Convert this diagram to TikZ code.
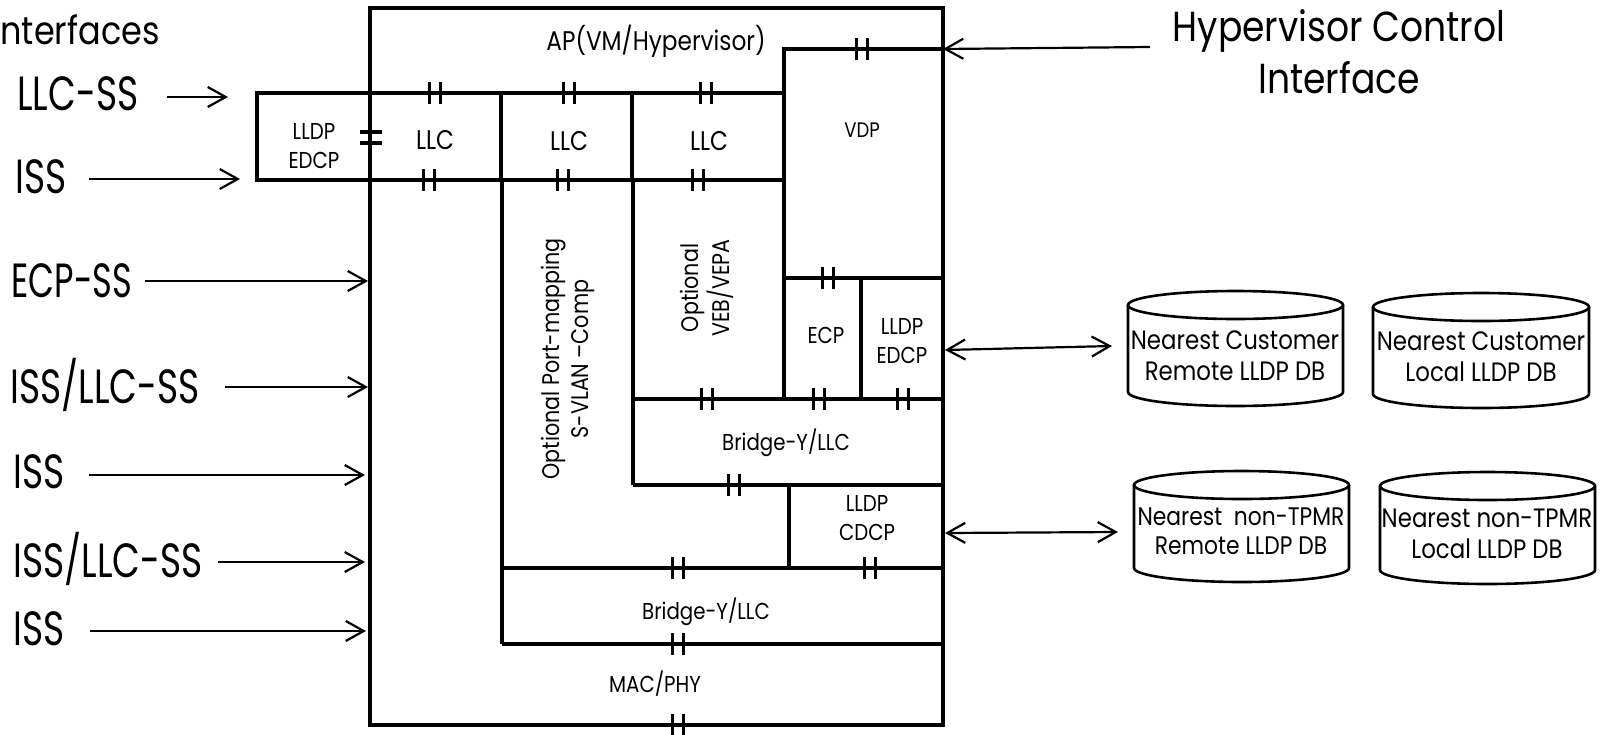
\documentclass[tikz,border=0pt]{standalone}
\usepackage{fontspec}
\setmainfont[FakeStretch=0.86]{Poppins}
\newfontfamily\narrowfont[FakeStretch=0.75]{Poppins}
\newfontfamily\narrowerfont[FakeStretch=0.70]{Poppins}
\usetikzlibrary{arrows.meta}
\newcommand\dbcyl[5]{% x1 x2 ytop ybot ry
  \draw[cyl] ({(#1+#2)/2},#3) ellipse [x radius={(#2-#1)/2}, y radius=#5];
  \draw[cyl] (#1,#3) -- (#1,#4)
    .. controls (#1,{#4+0.5523*#5}) and ({(#1+#2)/2-0.5523*(#2-#1)/2},{#4+#5}) .. ({(#1+#2)/2},{#4+#5})
    .. controls ({(#1+#2)/2+0.5523*(#2-#1)/2},{#4+#5}) and (#2,{#4+0.5523*#5}) .. (#2,#4) -- (#2,#3);
}
\begin{document}
\begin{tikzpicture}[x=0.5pt,y=-0.5pt,
  wall/.style={line width=1.7pt},
  conn/.style={line width=1.1pt,-{Straight Barb[length=9pt,width=10pt]}},
  dconn/.style={line width=1.1pt,{Straight Barb[length=9pt,width=10pt]}-{Straight Barb[length=9pt,width=10pt]}},
  cyl/.style={line width=1.3pt},
  big/.style={inner sep=0pt,anchor=base west,font=\narrowfont\fontsize{24}{28}\selectfont},
  mid/.style={inner sep=0pt,font=\fontsize{13.5}{16}\selectfont},
  sml/.style={inner sep=0pt,align=center,font=\fontsize{11.5}{14.5}\selectfont},
  dbt/.style={inner sep=0pt,align=center,font=\fontsize{13.3}{15.5}\selectfont},
  dbar/.pic={\draw[line width=1.7pt] (-5.5,-11) -- (-5.5,11) (5.5,-11) -- (5.5,11);}
]
\useasboundingbox (0,0) rectangle (1604,734);

% ---------- structure ----------
\draw[wall] (370,8) rectangle (943,725);
\draw[wall] (370,93) -- (257,93) -- (257,180) -- (370,180);
\draw[wall] (370,93) -- (784,93) (370,180) -- (784,180);
\draw[wall] (501,93) -- (501,180) (632,93) -- (632,180);
\draw[wall] (784,399) -- (784,49) -- (943,49);
\draw[wall] (784,278) -- (943,278);
\draw[wall] (861,278) -- (861,399);
\draw[wall] (502,180) -- (502,644);
\draw[wall] (633,180) -- (633,485);
\draw[wall] (633,399) -- (943,399) (633,485) -- (943,485);
\draw[wall] (789,485) -- (789,568);
\draw[wall] (502,568) -- (943,568) (502,644) -- (943,644);

% ---------- double bars ----------
\foreach \x in {435,569,706} \pic at (\x,93) {dbar};
\foreach \x in {429,563,698} \pic at (\x,180) {dbar};
\pic[rotate=90] at (371,137.5) {dbar};
\pic at (862,49) {dbar};
\pic at (828,278) {dbar};
\foreach \x in {707,819,903} \pic at (\x,399) {dbar};
\pic at (734,485) {dbar};
\foreach \x in {678,870} \pic at (\x,568) {dbar};
\pic at (678,644) {dbar};
\pic at (678,725) {dbar};

% ---------- box texts ----------
\node[mid] (ap) at (656,41) {AP(VM/Hypervisor)};
\node[mid] (llc1) at (435,140) {LLC};
\node[mid] (llc2) at (569,141) {LLC};
\node[mid] (llc3) at (709,141) {LLC};
\node[sml] (edcpL) at (314,146) {LLDP\\EDCP};
\node[sml,font=\fontsize{10.5}{13}\selectfont] (vdp) at (862,130) {VDP};
\node[sml,rotate=90,font=\fontsize{12}{14.5}\selectfont] (portmap) at (568,359) {Optional Port-mapping\\S-VLAN --Comp};
\node[sml,rotate=90,font=\fontsize{12}{14}\selectfont] (veb) at (707,288) {Optional\\VEB/VEPA};
\node[sml] (ecp) at (826,335) {ECP};
\node[sml] (edcpR) at (902,341) {LLDP\\EDCP};
\node[sml] (bridge1) at (786,443) {Bridge-Y/LLC};
\node[sml] (cdcp) at (867,518) {LLDP\\CDCP};
\node[sml] (bridge2) at (706,612) {Bridge-Y/LLC};
\node[sml] (mac) at (655,684) {MAC/PHY};

% ---------- left interfaces ----------
\node[inner sep=0pt,anchor=base west,font=\fontsize{19.5}{22}\selectfont] (ifc) at (0,44) {nterfaces};
\node[big] (l1) at (17,110) {LLC-SS};
\node[big] (l2) at (15,193) {ISS};
\node[big,font=\narrowerfont\fontsize{24}{28}\selectfont] (l3) at (11,297) {ECP-SS};
\node[big] (l4) at (10,403) {ISS/LLC-SS};
\node[big] (l5) at (13,488) {ISS};
\node[big] (l6) at (13,577) {ISS/LLC-SS};
\node[big] (l7) at (13,645) {ISS};
\coordinate (s1) at (167,97);  \coordinate (e1) at (228,97);
\coordinate (s2) at (89,179);  \coordinate (e2) at (240,179);
\coordinate (s3) at (145,281); \coordinate (e3) at (368,281);
\coordinate (s4) at (225,387); \coordinate (e4) at (368,387);
\coordinate (s5) at (89,475);  \coordinate (e5) at (365,475);
\coordinate (s6) at (218,562); \coordinate (e6) at (365,562);
\coordinate (s7) at (90,631);  \coordinate (e7) at (366,631);
\foreach \i in {1,...,7} \draw[conn] (s\i) -- (e\i);

% ---------- hypervisor control ----------
\node[inner sep=0pt,align=center,font=\fontsize{21}{26}\selectfont] (hyp) at (1339,52) {Hypervisor Control\\Interface};
\coordinate (hs) at (1150,47);
\coordinate (he) at (943,49);
\draw[conn] (hs) -- (he);

% ---------- databases ----------
\dbcyl{1128}{1343}{305}{392}{14}
\dbcyl{1373}{1589}{307}{394}{14}
\dbcyl{1134}{1349}{485}{568}{14}
\dbcyl{1380}{1595}{486}{570}{14}
\node[dbt] (db1) at (1235,356) {Nearest Customer\\Remote LLDP DB};
\node[dbt] (db2) at (1481,357) {Nearest Customer\\Local LLDP DB};
\node[dbt,font=\fontsize{12.7}{14.5}\selectfont] (db3) at (1241,531) {Nearest\ \ non-TPMR\\Remote LLDP DB};
\node[dbt] (db4) at (1487,534) {Nearest non-TPMR\\Local LLDP DB};

\coordinate (a1s) at (945,350); \coordinate (a1e) at (1112,346);
\coordinate (a2s) at (945,533); \coordinate (a2e) at (1118,532);
\draw[dconn] (a1s) -- (a1e);
\draw[dconn] (a2s) -- (a2e);
\end{tikzpicture}
\end{document}
